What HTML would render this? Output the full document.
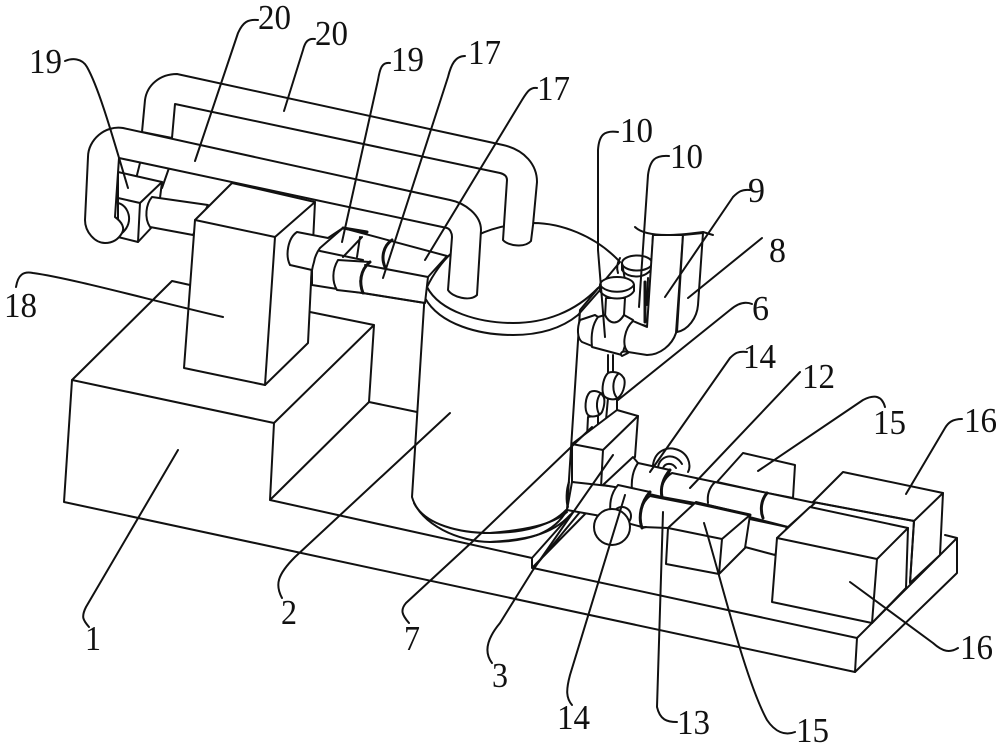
<!DOCTYPE html>
<html><head><meta charset="utf-8"><style>
html,body{margin:0;padding:0;background:#fff}
svg{display:block}
text{font-family:"Liberation Serif",serif;font-size:35px;fill:#111}
.w{fill:#fff}
.t{stroke-width:3}
</style></head><body>
<svg width="1000" height="747" viewBox="0 0 1000 747" fill="none" stroke="#111" stroke-width="2" stroke-linejoin="round" stroke-linecap="round">
<rect x="0" y="0" width="1000" height="747" fill="#fff" stroke="none"/>
<!-- base -->
<path d="M190 285L172 281L72 380L64 502L855 672L857 638L533 568"/>
<path d="M72 380L274 423L374 325L310 312M374 325L369 402L270 500L274 423M369 402L417 412M270 500L532 558"/>
<path d="M857 638L957 538L957 573L855 672M957 538L945 535"/>
<!-- rear left pipe stubs -->
<path d="M140 163L137 175M169 168L162 188"/>
<!-- left valve -->
<path class="w" d="M118 172L162 182L160 198L152 227L138 242L118 237Z"/>
<path d="M118 198L140 203L162 182M140 203L138 242"/>
<path d="M118 203C128 205 135 222 122 233"/>
<path class="w" d="M152 197L208 205L193 235L150 227C144 218 146 204 152 197Z"/>
<!-- block 18 -->
<path class="w" d="M195 220L232 183L315 202L308 343L265 385L184 368Z"/>
<path d="M195 220L275 237L315 202M275 237L265 385"/>
<!-- tank -->
<path class="w" d="M425 290L412 497C420 525 460 542 490 542C530 542 555 532 567 510L580 310L620 262C595 235 560 223 533 223C490 224 450 240 427 287Z"/>
<path d="M427 287C440 312 480 323 513 323C545 323 575 312 598 288"/>
<path d="M425 298C440 325 480 335 513 335C540 335 562 328 578 315"/>
<path d="M414 503C425 525 460 533 490 533C525 533 552 525 566 510"/>
<path d="M600 290L578 315"/>
<!-- rear pipe -->
<path class="w" d="M142 132L145 100C147 85 160 74 177 74L503 145C525 150 537 165 537 182L533 225L531 241C525 248 508 246 503 240L507 180C507 176 504 174 500 173L175 104L172 138L142 132Z"/>
<!-- valve right and pipes -->
<path class="w" d="M297 232L328 238L343 228L447 256L428 277L425 303L312 285L312 270L290 265C285 255 288 238 297 232Z"/>
<path d="M343 228L320 248Q315 255 314 262Q310 275 312 285"/>
<path d="M320 251L363 260"/>
<path class="t" d="M343 228L367 232"/>
<path class="w" d="M338 260C332 270 332 282 337 290L363 293C358 283 360 270 370 262Z"/>
<path class="t" d="M370 262C360 270 359 283 363 293"/>
<path d="M365 265L428 277M363 293L425 303"/>
<path class="t" d="M392 240C383 246 381 258 385 267"/>
<path d="M362 237L343 257M360 237L357 257"/>
<!-- front pipe -->
<path class="w" d="M123 128C105 125 88 140 88 157L85 220C85 232 95 243 105 243C112 243 118 240 122 233C125 228 122 222 115 217L119 158L447 228C450 229 452 233 452 237L448 290C452 297 470 302 477 295L481 230C481 215 465 203 450 200Z"/>
<!-- right side valves -->
<path class="w" d="M595 315L580 320C577 328 577 338 582 342L592 346L598 317Z"/>
<path class="w" d="M622 263L625 280L623 320L648 327L653 235L652 263C652 256 630 252 622 263Z"/>
<path d="M620 258C616 265 617 270 618 273"/>
<ellipse class="w" cx="637" cy="263" rx="15" ry="7.5"/>
<path d="M622 263V270C628 279 646 279 652 268"/>
<path d="M648 278L647 305"/>
<path class="t" d="M645 282L645 322M623 320L648 327"/>
<path class="w" d="M606 298L605 317C610 325 618 325 624 315L625 298Z"/>
<path class="w" d="M605 315L598 317C592 325 591 337 592 347L622 355L633 320L624 315C618 325 610 325 605 315Z"/>
<ellipse class="w" cx="617" cy="285" rx="17" ry="8"/>
<path class="w" d="M600 285V291C606 301 628 301 634 291V285C628 294 606 294 600 285Z"/>
<path class="w" d="M653 235L683 235L676 333C672 345 660 355 647 355L628 352C621 345 625 328 633 321L647 327Z"/>
<path class="w" d="M683 235L703 233L698 305C697 318 688 330 677 332Z"/>
<path d="M635 227C640 232 650 235 667 235C680 235 695 233 703 232L713 235"/>
<path class="w" d="M628 352C620 350 620 355 622 356L628 353Z"/>
<path d="M608 355L608 372M613 355L613 372"/>
<!-- small valves and block -->
<path class="w" d="M608 398L606 420Q612 424 617 420L617 398Z"/>
<path class="w" d="M608 373C603 378 601 390 604 396C608 400 615 400 618 398C625 392 626 380 623 377C620 372 612 371 608 373Z"/>
<path d="M618 374C612 380 612 392 617 398"/>
<path class="w" d="M588 417L587 437Q592 441 598 438L598 415Z"/>
<path class="w" d="M590 392C585 397 584 410 588 415C592 418 600 416 602 412C605 405 605 398 603 396C600 391 594 390 590 392Z"/>
<path d="M601 393C596 399 596 408 599 414"/>
<path class="w" d="M572 444L617 410L638 416L635 457L603 485L601 487L572 482Z"/>
<path d="M572 444L603 450L638 416M603 450L601 487"/>
<!-- hoses and ramp -->
<path d="M490 542C525 540 552 535 570 515M490 533C525 530 552 525 567 512"/>
<path d="M532 558V568L587 512M532 558L573 512M537 564L580 512"/>
<path class="w" d="M572 482L618 487L612 518L567 510Z"/>
<path d="M569 482C566 490 566 502 568 507"/>
<!-- back row -->
<path d="M653 465C655 450 668 447 675 449C688 452 692 465 688 472M658 467C660 455 675 452 682 464M663 468C665 463 672 462 676 468"/>
<path class="w" d="M603 485L633 457L638 463L670 470L662 497L632 490Z"/>
<path d="M638 463C633 470 631 480 632 490"/>
<path class="w" d="M717 482L743 453L795 465L793 498L767 493Z"/>
<path class="w" d="M672 473L815 503L788 527L695 503L662 497C660 487 664 478 672 473Z"/>
<path class="t" d="M670 470C663 478 660 488 662 497"/>
<path d="M715 482C709 488 707 495 708 503"/>
<path class="t" d="M767 493C761 500 760 510 763 518"/>
<!-- front row -->
<path class="w" d="M618 485L650 492C642 500 638 515 642 527L612 519C608 505 611 493 618 485Z"/>
<path class="w" d="M650 496L696 505L668 528L642 527C638 515 642 502 650 496Z"/>
<path class="t" d="M650 492C641 502 638 517 642 528"/>
<path d="M642 528L646 527"/>
<circle class="w" cx="622" cy="516" r="9"/>
<circle class="w" cx="612" cy="527" r="18"/>
<!-- front 15 -->
<path class="w" d="M745 518L787 527L775 555L745 547C738 538 740 524 750 515Z"/>
<path class="w" d="M668 528L696 502L750 515L745 548L719 574L666 564Z"/>
<path d="M668 528L722 539L750 515M722 539L719 574"/>
<path class="t" d="M696 503L750 515"/>
<!-- back 16 -->
<path class="w" d="M813 502L843 472L943 493L940 555L910 583L914 521Z"/>
<path d="M914 521L943 493M914 521L910 583M813 502L914 521"/>
<!-- front 16 -->
<path class="w" d="M777 538L810 507L908 528L906 588L872 623L772 602Z"/>
<path d="M777 538L877 559L908 528M877 559L872 623"/>
<!-- leaders -->
<path d="M65 61C72 58 82 58 87 67C100 90 115 145 128 188"/>
<path d="M258 20C248 19 243 22 238 33L195 161"/>
<path d="M315 39C308 38 305 42 303 50L284 111"/>
<path d="M390 63C382 62 380 68 378 80L342 242"/>
<path d="M465 56C455 56 451 65 448 77L383 278"/>
<path d="M537 88C530 87 527 92 522 100L425 260"/>
<path d="M16 287C18 275 23 271 33 273C70 278 150 300 223 317"/>
<path d="M618 132C604 130 599 135 598 150L598 250L605 337"/>
<path d="M669 156C655 155 650 160 648 175L639 307"/>
<path d="M750 190C742 189 738 192 733 197L665 297"/>
<path d="M762 238L688 298"/>
<path d="M752 304C745 301 738 303 730 310L618 400"/>
<path d="M747 352C738 351 735 353 730 358L650 472"/>
<path d="M800 372L690 488"/>
<path d="M885 407C882 396 875 394 863 400L758 471"/>
<path d="M962 419C952 419 948 423 945 428L906 494"/>
<path d="M958 648C950 653 943 652 933 643L850 582"/>
<path d="M795 732C785 736 775 732 767 720C745 680 720 575 704 523"/>
<path d="M677 722C667 722 660 720 657 707L663 512"/>
<path d="M572 705C566 698 566 690 570 675L625 495"/>
<path d="M613 455L533 570L500 623C490 635 482 650 492 663"/>
<path d="M592 427L471 543L406 603C400 610 402 615 409 623"/>
<path d="M450 413L295 557C277 575 275 585 282 598"/>
<path d="M178 450L86 607C81 617 83 620 89 627"/>
<!-- labels -->
<g stroke="none">
<text x="258" y="29" textLength="33" lengthAdjust="spacingAndGlyphs">20</text>
<text x="315" y="45" textLength="33" lengthAdjust="spacingAndGlyphs">20</text>
<text x="29" y="73" textLength="33" lengthAdjust="spacingAndGlyphs">19</text>
<text x="391" y="71" textLength="33" lengthAdjust="spacingAndGlyphs">19</text>
<text x="468" y="64" textLength="33" lengthAdjust="spacingAndGlyphs">17</text>
<text x="537" y="100" textLength="33" lengthAdjust="spacingAndGlyphs">17</text>
<text x="4" y="317" textLength="33" lengthAdjust="spacingAndGlyphs">18</text>
<text x="620" y="142" textLength="33" lengthAdjust="spacingAndGlyphs">10</text>
<text x="670" y="168" textLength="33" lengthAdjust="spacingAndGlyphs">10</text>
<text x="748" y="202" textLength="17" lengthAdjust="spacingAndGlyphs">9</text>
<text x="769" y="262" textLength="17" lengthAdjust="spacingAndGlyphs">8</text>
<text x="752" y="320" textLength="17" lengthAdjust="spacingAndGlyphs">6</text>
<text x="743" y="368" textLength="33" lengthAdjust="spacingAndGlyphs">14</text>
<text x="802" y="388" textLength="33" lengthAdjust="spacingAndGlyphs">12</text>
<text x="873" y="434" textLength="33" lengthAdjust="spacingAndGlyphs">15</text>
<text x="964" y="432" textLength="33" lengthAdjust="spacingAndGlyphs">16</text>
<text x="960" y="659" textLength="33" lengthAdjust="spacingAndGlyphs">16</text>
<text x="796" y="742" textLength="33" lengthAdjust="spacingAndGlyphs">15</text>
<text x="677" y="734" textLength="33" lengthAdjust="spacingAndGlyphs">13</text>
<text x="557" y="729" textLength="33" lengthAdjust="spacingAndGlyphs">14</text>
<text x="492" y="687" textLength="16" lengthAdjust="spacingAndGlyphs">3</text>
<text x="404" y="650" textLength="16" lengthAdjust="spacingAndGlyphs">7</text>
<text x="281" y="624" textLength="16" lengthAdjust="spacingAndGlyphs">2</text>
<text x="85" y="650" textLength="16" lengthAdjust="spacingAndGlyphs">1</text>
</g>
</svg>
</body></html>
